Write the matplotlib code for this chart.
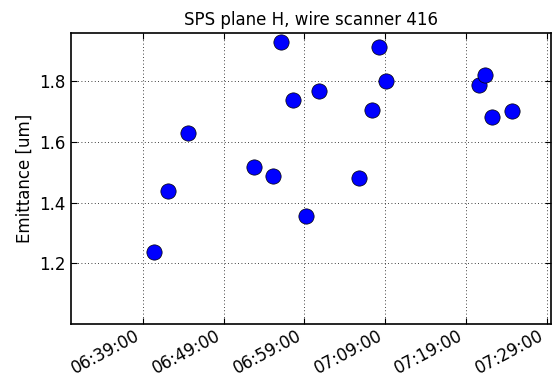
import datetime as dt
import matplotlib
matplotlib.use("Agg")
import matplotlib.pyplot as plt
import matplotlib.dates as mdates

# scan times (hh:mm:ss) and measured emittance
times = ["06:40:20", "06:42:04", "06:44:32", "06:52:48", "06:55:10", "06:56:09",
         "06:57:38", "06:59:12", "07:00:52", "07:05:48", "07:07:26", "07:08:17",
         "07:09:07", "07:20:39", "07:21:23", "07:22:16", "07:24:44"]
emittance = [1.238, 1.438, 1.630, 1.518, 1.486, 1.928,
             1.739, 1.356, 1.766, 1.482, 1.705, 1.913,
             1.799, 1.786, 1.820, 1.681, 1.701]
tick_times = ["06:39:00", "06:49:00", "06:59:00", "07:09:00", "07:19:00", "07:29:00"]
day = "2012-10-10 "


def to_dt(s):
    return dt.datetime.strptime(day + s, "%Y-%m-%d %H:%M:%S")


x = [to_dt(t) for t in times]

fig = plt.figure(figsize=(5.52, 3.76), dpi=100)
ax = fig.add_axes([0.1286, 0.138, 0.870, 0.774])
ax.plot(x, emittance, "o", color="blue", markeredgecolor="black",
        markeredgewidth=0.5, markersize=11)

ax.set_xlim(to_dt("06:30:05"), to_dt("07:29:35"))
ax.set_ylim(1.0, 1.958)
ax.set_yticks([1.2, 1.4, 1.6, 1.8])
ax.set_xticks([to_dt(t) for t in tick_times])
ax.xaxis.set_major_formatter(mdates.DateFormatter("%H:%M:%S"))
for lab in ax.get_xticklabels():
    lab.set_rotation(28)
    lab.set_ha("right")

ax.grid(True, color="black", linestyle=(0, (1, 3)), linewidth=0.6)
ax.tick_params(direction="in", top=True, right=True, length=4, labelsize=12,
               pad=4)
ax.tick_params(axis="x", pad=2)
for sp in ax.spines.values():
    sp.set_linewidth(1.2)

ax.set_title("SPS plane H, wire scanner 416", fontsize=12)
ax.set_ylabel("Emittance [um]", fontsize=12)

fig.savefig("out.png", dpi=100)
